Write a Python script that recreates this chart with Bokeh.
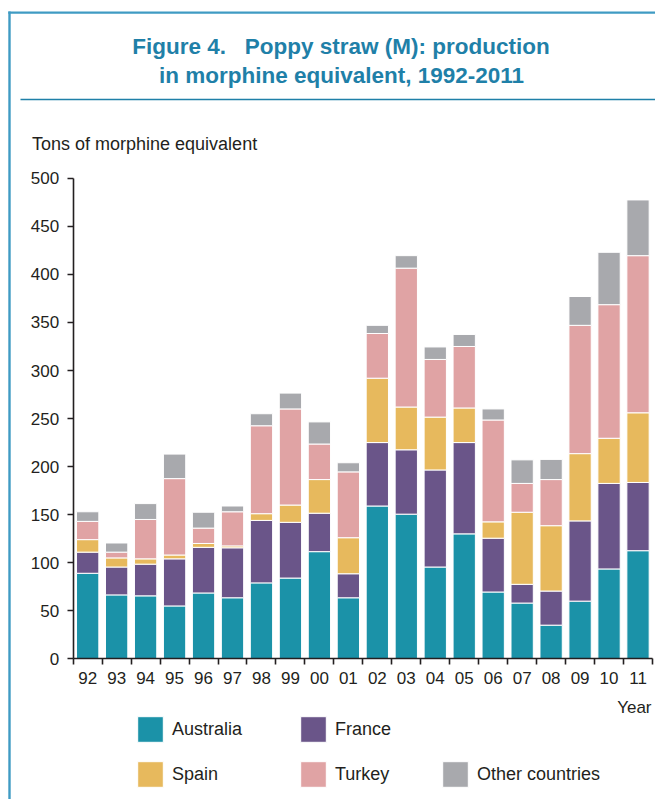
from bokeh.plotting import figure
from bokeh.models import (ColumnDataSource, Range1d, FixedTicker, Label, Legend,
                          LegendItem, BoxAnnotation)
from bokeh.embed import file_html
from bokeh.resources import INLINE

# ---- data (tons of morphine equivalent) ----
years = ["92", "93", "94", "95", "96", "97", "98", "99", "00", "01",
         "02", "03", "04", "05", "06", "07", "08", "09", "10", "11"]
australia = [89, 66.5, 65.5, 55, 68.5, 63.5, 79, 84, 111.5, 63.5,
             159, 150.5, 95.5, 130, 69.5, 58, 35, 60, 93.5, 112.5]
france = [22, 29, 33, 49, 47.5, 52, 65, 58, 40, 25,
          66, 67, 101, 95, 56, 19.5, 35.5, 83.5, 89, 71]
spain = [13, 9.5, 5.5, 4, 4, 2, 7, 18, 35, 37.5,
         67, 44.5, 55, 36, 17, 75, 68, 70, 47, 72.5]
turkey = [19, 6, 41, 79.5, 16, 35.5, 91.5, 100, 37, 68.5,
          46.5, 144.5, 60, 64, 106, 30, 48, 133.5, 139, 163.5]
other = [10, 9.5, 16.5, 25.5, 16.5, 6, 12.5, 16.5, 23, 9.5,
         8.5, 13, 13, 12.5, 11.5, 24.5, 21, 30, 54.5, 58]
series_names = ["Australia", "France", "Spain", "Turkey", "Other countries"]
y_ticks = [0, 50, 100, 150, 200, 250, 300, 350, 400, 450, 500]

# ---- style ----
FONT = "Liberation Sans"
TXT = "#231f20"
TEAL = "#1f80a8"
BORDER = "#3f9bc3"
colors = ["#1b92a8", "#6a5589", "#e7b95d", "#e0a3a4", "#a8a9ad"]

W, H = 655, 799
# canvas-pixel geometry of the plotting area (frame spans whole canvas)
FX0, PX = 72.7, 28.965   # x pixel of category edge 0, pixels per category
FY0, PY = 658.3, 0.961   # y pixel of value 0, pixels per ton


def dx(fx):
    return (fx - FX0) / PX


def dy(fy):
    return (FY0 - fy) / PY


keys = ["Australia", "France", "Spain", "Turkey", "Other"]
x_pos = [i + 0.5 for i in range(len(years))]
src = ColumnDataSource(dict(x=x_pos, Australia=australia, France=france,
                            Spain=spain, Turkey=turkey, Other=other))

p = figure(width=W, height=H, x_range=Range1d(dx(0), dx(W)),
           y_range=Range1d(dy(H), dy(0)), output_backend="svg",
           toolbar_location=None, title=None,
           min_border_left=0, min_border_right=0,
           min_border_top=0, min_border_bottom=0)
p.outline_line_color = None
p.xgrid.grid_line_color = None
p.ygrid.grid_line_color = None

rs = p.vbar_stack(keys, x="x", width=0.77, source=src,
                  fill_color=colors, line_color="white", line_width=1)

# ---- axes ----
p.xaxis.fixed_location = 0
p.yaxis.fixed_location = 0
p.xaxis.bounds = (0, len(years))
p.yaxis.bounds = (0, 500)
p.yaxis.ticker = FixedTicker(ticks=y_ticks)
p.yaxis.major_tick_out = 6
p.yaxis.major_tick_in = 0
p.yaxis.minor_tick_line_color = None
p.yaxis.major_label_standoff = 8
for ax in (p.xaxis[0], p.yaxis[0]):
    ax.axis_line_color = TXT
    ax.axis_line_width = 1.6
    ax.major_tick_line_color = TXT
    ax.major_tick_line_width = 1.6
    ax.major_label_text_font = FONT
    ax.major_label_text_font_size = "17px"
    ax.major_label_text_color = TXT

p.xaxis.ticker = FixedTicker(ticks=x_pos, minor_ticks=list(range(len(years) + 1)))
p.xaxis.major_label_overrides = {x: y for x, y in zip(x_pos, years)}
p.xaxis.major_tick_line_color = None
p.xaxis.major_tick_out = 0
p.xaxis.major_tick_in = 0
p.xaxis.minor_tick_line_color = TXT
p.xaxis.minor_tick_line_width = 1.6
p.xaxis.minor_tick_out = 6
p.xaxis.minor_tick_in = 0
p.xaxis.major_label_standoff = 7


# ---- texts ----
def lab(x, y, text, size, color=TXT, align="left", style="normal", font=FONT):
    p.add_layout(Label(x=dx(x), y=dy(y), text=text,
                       text_font=font, text_font_size=size, text_color=color,
                       text_align=align, text_baseline="middle",
                       text_font_style=style))


lab(340.5, 46, "Figure 4.\u00a0\u00a0\u00a0Poppy straw (M): production", "22.5px", TEAL, "center", "bold")
lab(341, 75, "in morphine equivalent, 1992-2011", "22.5px", TEAL, "center", "bold")
lab(31.5, 143, "Tons of morphine equivalent", "18px")
lab(651, 707, "Year", "17px", align="right")


# ---- frame lines ----
def box(l, r, t, b, c):
    p.add_layout(BoxAnnotation(left=dx(l), right=dx(r), top=dy(t), bottom=dy(b),
                               fill_color=c, fill_alpha=1, line_color=None,
                               level="overlay"))


box(20, W, 98.3, 99.8, TEAL)
box(7.8, 10.2, 11, H, BORDER)
box(7.8, W, 11, 13.2, BORDER)

# ---- legend (one entry per block, positioned like the original) ----
# legend glyph box of 32 px draws a ~26 px swatch (10% inset on each side)
GB = 32
INSET = 3
leg_pos = [(137 - INSET, H - 742 - INSET), (300 - INSET, H - 742 - INSET),
           (137 - INSET, H - 787 - INSET), (300 - INSET, H - 787 - INSET),
           (442 - INSET, H - 787 - INSET)]
for r, name, pos in zip(rs, series_names, leg_pos):
    leg = Legend(items=[LegendItem(label=name, renderers=[r])], location=pos,
                 orientation="horizontal", glyph_width=GB, glyph_height=GB,
                 label_standoff=6, padding=0, margin=0, spacing=0,
                 border_line_color=None, background_fill_alpha=0,
                 label_text_font=FONT, label_text_font_size="18px",
                 label_text_color=TXT, label_height=GB)
    p.add_layout(leg, "center")

open("out.html", "w").write(file_html(p, INLINE))
